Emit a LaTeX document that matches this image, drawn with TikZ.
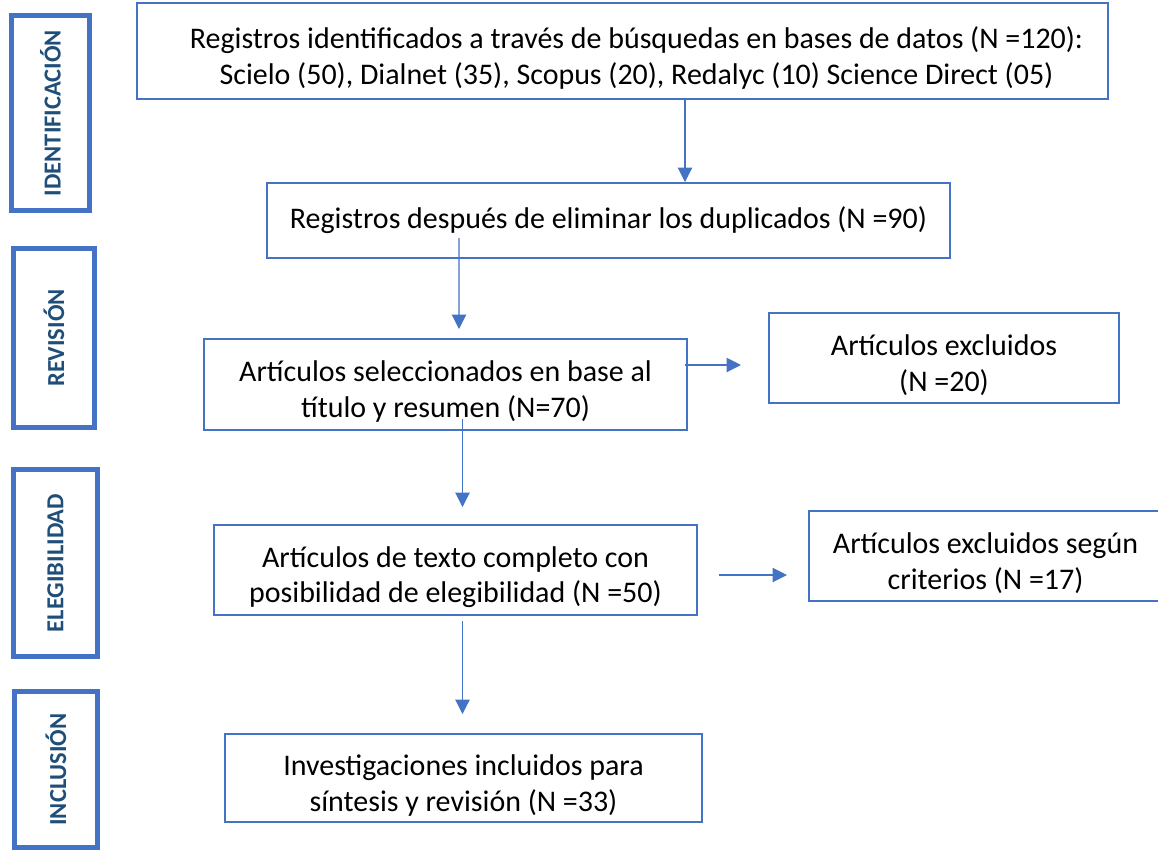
\documentclass[tikz,border=0pt]{standalone}
\usepackage{fontspec}
\setmainfont{Carlito}
\usetikzlibrary{arrows.meta,calc}
\definecolor{boxblue}{HTML}{4472C4}
\definecolor{labelblue}{HTML}{1F4E79}
\newcommand{\tallstrut}{\rule{0pt}{25pt}}

\begin{document}
\begin{tikzpicture}[x=0.025cm,y=-0.025cm,
    box/.style={draw=boxblue,line width=1.4pt,align=center,inner sep=0pt,font=\fontsize{21.3}{25.5}\selectfont},
    stage/.style={draw=boxblue,line width=3.6pt,rotate=90,inner sep=0pt,text=labelblue,font=\fontsize{17.4}{20}\selectfont\bfseries},
    arr/.style={draw=boxblue,line width=0.8pt,-{Triangle[length=0.36cm,width=0.36cm]}}]

    \useasboundingbox (0,0) rectangle (1158,851);

    % stages on the left
    \node[stage,minimum width=4.875cm,minimum height=1.95cm]  (ident) at (50.5,113)  {IDENTIFICACIÓN};
    \node[stage,minimum width=4.475cm,minimum height=2.025cm] (revis) at (54,338)    {REVISIÓN};
    \node[stage,minimum width=4.675cm,minimum height=2.1cm]   (eleg)  at (55.5,563)  {ELEGIBILIDAD};
    \node[stage,minimum width=3.9cm,minimum height=2.075cm]   (inclu) at (56,769.5)  {INCLUSIÓN};

    % main flow
    \node[box,minimum width=24.275cm,minimum height=2.4cm] (regs) at (622.5,51)
        {\tallstrut\hspace*{0.7cm}Registros identificados a través de búsquedas en bases de datos (N =120):\\
         \hspace*{0.7cm}Scielo (50), Dialnet (35), Scopus (20), Redalyc (10) Science Direct (05)};
    \node[box,minimum width=17.075cm,minimum height=1.875cm] (dupl) at (608.5,220.5)
        {Registros después de eliminar los duplicados (N =90)};
    \node[box,minimum width=12.075cm,minimum height=2.275cm] (selec) at (445.5,384.5)
        {\tallstrut Artículos seleccionados en base al\\título y resumen (N=70)};
    \node[box,minimum width=8.75cm,minimum height=2.25cm] (excla) at (944,358)
        {\tallstrut Artículos excluidos\\(N =20)};
    \node[box,minimum width=12.075cm,minimum height=2.25cm] (compl) at (455.5,570)
        {\tallstrut Artículos de texto completo con\\posibilidad de elegibilidad (N =50)};
    \node[box,minimum width=8.825cm,minimum height=2.25cm] (exclb) at (985.5,556)
        {\tallstrut Artículos excluidos según\\criterios (N =17)};
    \node[box,minimum width=11.925cm,minimum height=2.2cm] (incl) at (463.5,778)
        {\tallstrut Investigaciones incluidos para\\síntesis y revisión (N =33)};

    % connectors
    \draw[arr] ($(regs.south)+(62.5,0)$) -- ($(dupl.north)+(76.5,0)$);
    \draw[arr] ($(dupl.center)+(-149.5,17.5)$) -- ($(selec.north)+(13.5,-9)$);
    \draw[arr] ($(selec.east)+(-3,-19.5)$) -- ($(excla.west)+(-27,7)$);
    \draw[arr] ($(selec.south)+(17,-12)$) -- ($(compl.north)+(7,-17)$);
    \draw[arr] ($(compl.east)+(21,5)$) -- ($(exclb.west)+(-21,19)$);
    \draw[arr] ($(compl.south)+(7,5)$) -- ($(incl.north)+(-1,-19)$);

\end{tikzpicture}
\end{document}
